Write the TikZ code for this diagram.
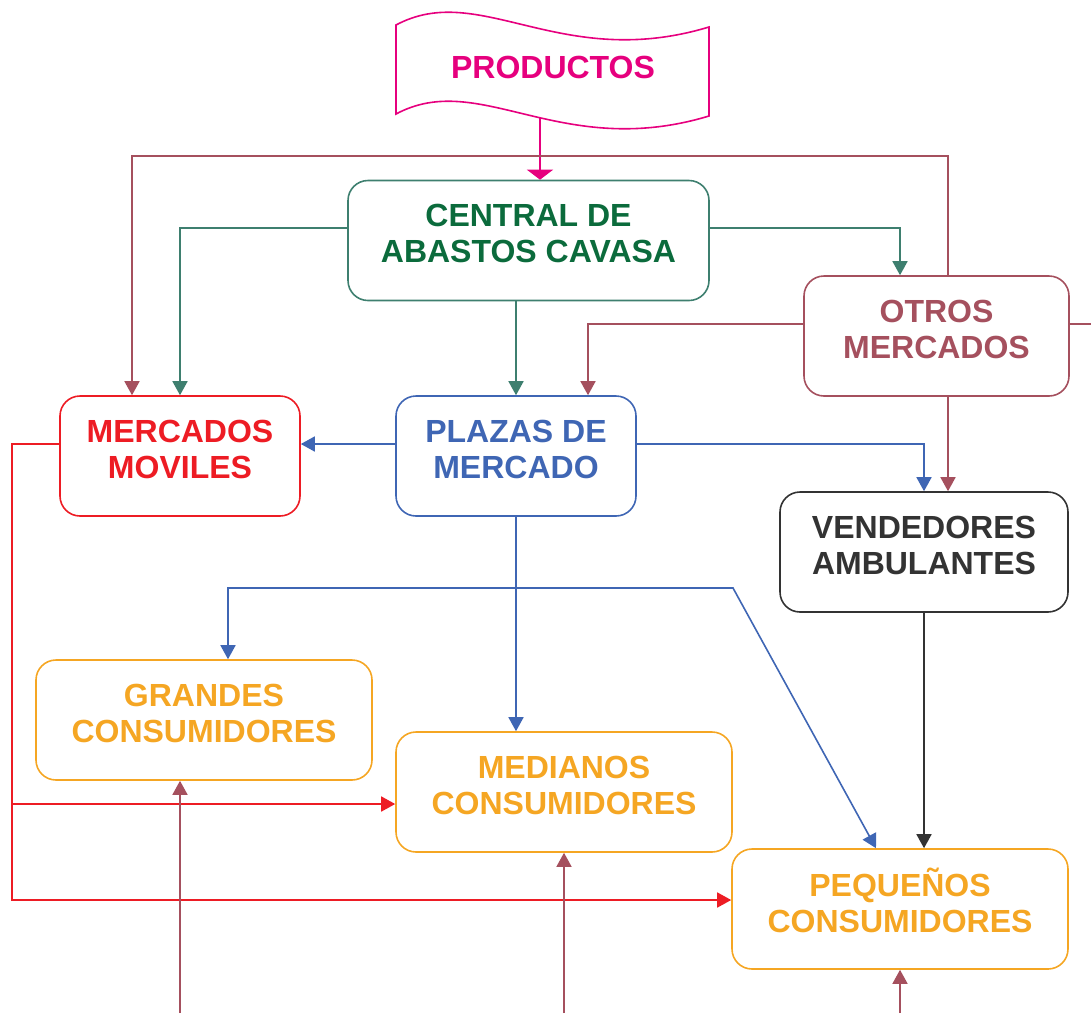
\documentclass[tikz,border=0pt]{standalone}
\usepackage{fontspec}
\setmainfont{Liberation Sans}
\usetikzlibrary{arrows.meta}
\definecolor{cpink}{HTML}{E6007E}
\definecolor{cmauve}{HTML}{A5505E}
\definecolor{cteal}{HTML}{3E7F6F}
\definecolor{cgreen}{HTML}{0B6B3C}
\definecolor{cred}{HTML}{ED1C24}
\definecolor{cblue}{HTML}{3F66B4}
\definecolor{corange}{HTML}{F5A623}
\definecolor{cdark}{HTML}{333333}
\begin{document}
\begin{tikzpicture}[x=1pt,y=-1pt,
  box/.style={draw, rounded corners=20pt, line width=1.6pt, minimum height=120pt, inner sep=0pt},
  lbl/.style={font=\bfseries\fontsize{32}{36}\selectfont, align=center, inner sep=0pt},
  conn/.style={line width=1.6pt},
  arr/.style={conn, -{Triangle[width=15pt,length=14pt]}}
]
\useasboundingbox (0,0) rectangle (1091,1013);

% PRODUCTOS (tape shape)
\draw[cpink, line width=1.6pt] (396,25) .. controls (480,-20) and (560,72) .. (709,27)
  -- (709,116) .. controls (560,161) and (480,69) .. (396,114) -- cycle;
\node[lbl, text=cpink] (prod) at (553,67) {PRODUCTOS};
\coordinate (prodb) at (540,118);

% boxes
\node[box, draw=cteal, minimum width=361pt] (central) at (528.5,240.5) {};
\node[lbl, text=cgreen] (centralT) at (528.5,233) {CENTRAL DE\\ABASTOS CAVASA};

\node[box, draw=cmauve, minimum width=265pt] (otros) at (936.5,336) {};
\node[lbl, text=cmauve] (otrosT) at (936.5,329) {OTROS\\MERCADOS};

\node[box, draw=cred, minimum width=240pt] (mm) at (180,456) {};
\node[lbl, text=cred] (mmT) at (180,449) {MERCADOS\\MOVILES};

\node[box, draw=cblue, minimum width=240pt] (plazas) at (516,456) {};
\node[lbl, text=cblue] (plazasT) at (516,449) {PLAZAS DE\\MERCADO};

\node[box, draw=cdark, minimum width=288pt] (vend) at (924,552) {};
\node[lbl, text=cdark] (vendT) at (924,545) {VENDEDORES\\AMBULANTES};

\node[box, draw=corange, minimum width=336pt] (grandes) at (204,720) {};
\node[lbl, text=corange] (grandesT) at (204,713) {GRANDES\\CONSUMIDORES};

\node[box, draw=corange, minimum width=336pt] (medianos) at (564,792) {};
\node[lbl, text=corange] (medianosT) at (564,785) {MEDIANOS\\CONSUMIDORES};

\node[box, draw=corange, minimum width=336pt] (pequenos) at (900,909) {};
\node[lbl, text=corange] (pequenosT) at (900,900) {PEQUEÑOS\\CONSUMIDORES};

% pink arrow
\draw[cpink, conn, -{Triangle[width=26pt,length=10pt]}] (prodb) -- ([xshift=11.5pt]central.north);

% mauve connectors
\draw[cmauve, arr] ([xshift=11.5pt]otros.north) -- ++(0,-119) -| ([xshift=-48pt]mm.north);
\coordinate (rstub) at (1091,324);
\draw[cmauve, conn] ([yshift=12pt]otros.east) -- (rstub);
\draw[cmauve, arr] ([yshift=12pt]otros.west) -| ([xshift=72pt]plazas.north);
\draw[cmauve, arr] ([xshift=11.5pt]otros.south) -- ([xshift=24pt]vend.north);

% green connectors
\draw[cteal, arr] ([yshift=12.5pt]central.west) -| (mm.north);
\draw[cteal, arr] ([yshift=12.5pt]central.east) -| ([xshift=-36.5pt]otros.north);
\draw[cteal, arr] (central.south -| plazas.north) -- (plazas.north);

% blue connectors
\draw[cblue, arr] ([yshift=12pt]plazas.west) -- ([yshift=12pt]mm.east);
\draw[cblue, arr] ([yshift=12pt]plazas.east) -| (vend.north);
\draw[cblue, arr] (plazas.south) -- (plazas.south |- medianos.north);
\coordinate (bj) at (516,588);
\coordinate (bk) at (733,588);
\draw[cblue, arr] (bj) -| ([xshift=24pt]grandes.north);
\draw[cblue, arr] (bj) -- (bk) -- ([xshift=-24pt]pequenos.north);

% dark connector
\draw[cdark, arr] (vend.south) -- (vend.south |- pequenos.north);

% red connectors
\coordinate (rl) at (12,444);
\coordinate (rb) at (12,804);
\draw[cred, arr] ([yshift=12pt]mm.west) -- (rl) |- ([yshift=9pt]pequenos.west);
\draw[cred, arr] (rb) -- ([yshift=-12pt]medianos.west);

% mauve from bottom
\coordinate (b1) at (180,1013);
\coordinate (b2) at (564,1013);
\coordinate (b3) at (900,1013);
\draw[cmauve, arr] (b1) -- ([xshift=-24pt]grandes.south);
\draw[cmauve, arr] (b2) -- (medianos.south);
\draw[cmauve, arr] (b3) -- (pequenos.south);
\end{tikzpicture}
\end{document}
